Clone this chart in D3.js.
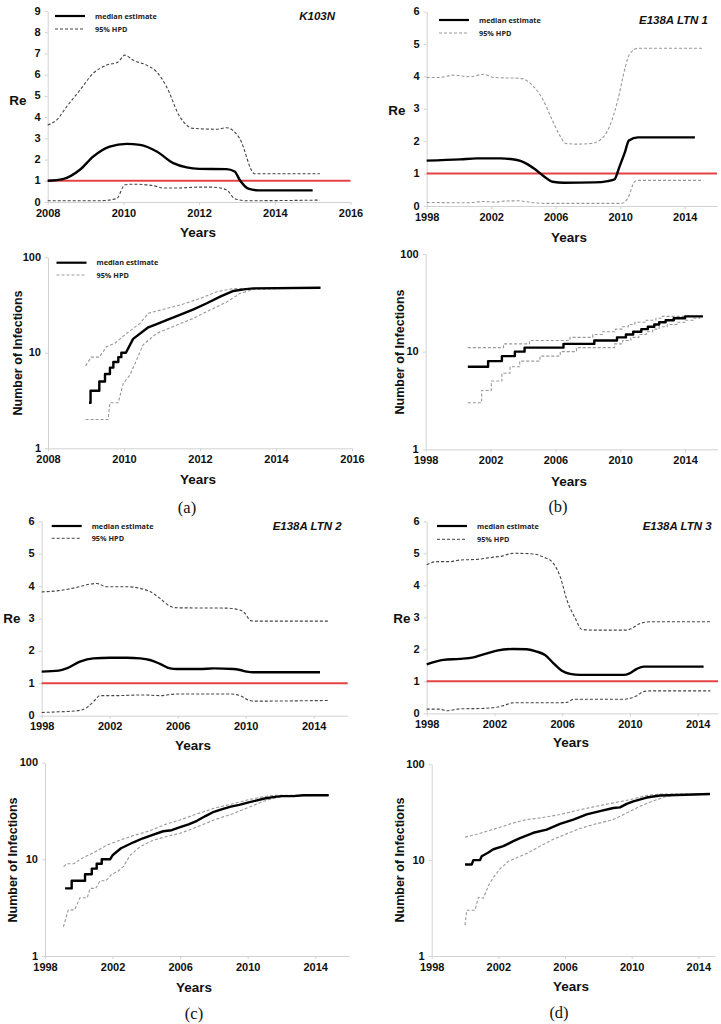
<!DOCTYPE html>
<html><head><meta charset="utf-8">
<script src="https://cdn.jsdelivr.net/npm/d3@7"></script>
<style>
html,body{margin:0;padding:0;background:#fff;}
svg{display:block;font-family:"Liberation Sans",Arial,sans-serif;}
</style></head>
<body>
<svg id="fig" width="721" height="1024"></svg>
<script>
// ---------- DATA ----------
const reTicksA = [0,1,2,3,4,5,6,7,8,9];
const reTicksBCD = [0,1,2,3,4,5,6];
const yearTicksA = [2008,2010,2012,2014,2016];
const yearTicksBCD = [1998,2002,2006,2010,2014];
const logTicks = [1,10,100];
const threshold = 1;
const legendLabels = ["median estimate","95% HPD"];
const titles = ["K103N","E138A LTN 1","E138A LTN 2","E138A LTN 3"];
const letters = ["(a)","(b)","(c)","(d)"];

// (a) K103N – Re
const aReMedian = [[2008,1.0],[2008.4,1.08],[2008.85,1.52],[2009.2,2.14],[2009.64,2.61],[2010.08,2.74],[2010.44,2.69],[2010.88,2.38],[2011.32,1.83],[2011.67,1.63],[2012.0,1.56],[2012.72,1.55],[2012.94,1.44],[2013.07,1.05],[2013.3,0.63],[2013.56,0.55],[2015.0,0.55]];
const aReUpper = [[2008,3.63],[2008.24,3.87],[2008.5,4.49],[2008.85,5.27],[2009.2,6.06],[2009.56,6.45],[2009.86,6.6],[2010.04,6.92],[2010.26,6.68],[2010.61,6.45],[2010.88,6.13],[2011.14,5.43],[2011.49,4.02],[2011.84,3.47],[2012.46,3.43],[2012.72,3.5],[2013.07,3.0],[2013.47,1.33],[2015.19,1.33]];
const aReLower = [[2008,0.06],[2009.38,0.06],[2009.82,0.16],[2010.04,0.81],[2010.26,0.84],[2010.79,0.77],[2011.05,0.66],[2011.4,0.66],[2012.0,0.7],[2012.35,0.7],[2012.72,0.58],[2012.94,0.16],[2013.25,0.06],[2015.19,0.09]];
// (a) K103N – infections
const aInfMedian = [[2009.08,3],[2009.12,3],[2009.12,4],[2009.35,4],[2009.35,5],[2009.5,5],[2009.5,6],[2009.63,6],[2009.63,7],[2009.72,7],[2009.72,8],[2009.85,8],[2009.85,9],[2009.93,9],[2009.93,10],[2010.05,10],[2010.24,14],[2010.64,18.5],[2010.86,20],[2011.12,22],[2011.47,25],[2011.83,28.5],[2012.18,33],[2012.53,38.7],[2012.88,44.4],[2013.15,46.2],[2013.4,47.3],[2015.17,48]];
const aInfUpper = [[2008.99,7.3],[2009.14,9],[2009.35,9],[2009.54,11.6],[2009.76,12.6],[2010.07,16],[2010.42,20.3],[2010.64,25.9],[2010.95,28],[2011.47,31.6],[2012.0,37],[2012.44,43.6],[2012.88,47],[2015.17,48]];
const aInfLower = [[2008.99,2],[2009.58,2],[2009.63,3],[2009.85,3],[2009.98,4.8],[2010.15,5.8],[2010.33,8.4],[2010.5,12.1],[2010.86,16],[2011.39,19.5],[2011.83,23],[2012.26,28],[2012.7,34],[2013.06,42],[2013.4,46],[2015.17,48]];

// (b) E138A LTN 1 – Re
const bReMedian = [[1998,1.40],[2000.08,1.44],[2001.1,1.47],[2002.57,1.47],[2003.6,1.42],[2004.03,1.35],[2004.65,1.16],[2005.28,0.91],[2005.8,0.75],[2006.52,0.72],[2008.4,0.73],[2009.23,0.77],[2009.64,0.82],[2009.95,1.21],[2010.27,1.63],[2010.54,2.02],[2011.1,2.12],[2014.63,2.12]];
const bReUpper = [[1998,3.97],[1998.83,3.97],[1999.66,4.04],[2000.7,3.99],[2001.53,4.07],[2002.16,3.97],[2003.82,3.94],[2004.24,3.86],[2004.65,3.68],[2005.17,3.32],[2005.69,2.76],[2006.3,2.14],[2006.63,1.93],[2007.36,1.91],[2008.19,1.93],[2008.81,2.06],[2009.33,2.45],[2009.85,3.27],[2010.27,4.2],[2010.58,4.69],[2011.1,4.87],[2015.15,4.87]];
const bReLower = [[1998,0.11],[2000.5,0.10],[2001.53,0.14],[2002.16,0.12],[2002.78,0.15],[2003.6,0.16],[2004.24,0.13],[2004.65,0.10],[2005.5,0.08],[2010.06,0.08],[2010.47,0.24],[2010.89,0.75],[2011.1,0.79],[2015.15,0.79]];
// (b) infections (step)
const bInfMedian = [[2000.6,7],[2001.85,8],[2002.7,9],[2003.5,10],[2004.1,11],[2006.5,12],[2008.4,13],[2009.8,14],[2010.35,15],[2010.8,16],[2011.3,17],[2011.7,18],[2012.1,19],[2012.4,20],[2012.8,21],[2013.3,22],[2014.0,23],[2015.1,23]];
const bInfUpper = [[2000.6,11],[2002.8,12],[2004.4,13],[2006.9,14],[2008.3,15],[2008.9,16],[2009.7,17],[2010.1,18],[2010.5,19],[2010.9,20],[2011.6,21],[2012.2,22],[2012.6,23],[2015.1,23]];
const bInfLower = [[2000.6,3],[2001.45,4],[2002.05,5],[2002.7,6],[2003.2,7],[2003.8,8],[2005.05,9],[2006.3,10],[2007.3,11],[2009.65,12],[2010.15,13],[2010.65,14],[2011.15,15],[2011.6,16],[2012.0,17],[2012.4,18],[2012.9,19],[2013.5,20],[2014.0,21],[2014.5,22],[2014.9,23],[2015.1,23]];

// (c) E138A LTN 2 – Re
const cReMedian = [[1998,1.36],[1999,1.39],[1999.47,1.46],[2000.25,1.67],[2001.04,1.77],[2002.02,1.79],[2003,1.79],[2003.8,1.77],[2004.37,1.72],[2004.96,1.6],[2005.55,1.46],[2005.94,1.44],[2007.3,1.44],[2008.1,1.46],[2009.27,1.44],[2009.67,1.41],[2010.06,1.36],[2010.45,1.34],[2014.37,1.34]];
const cReUpper = [[1998,3.82],[1999,3.86],[2000.06,3.96],[2000.84,4.06],[2001.24,4.08],[2001.82,3.98],[2003,3.98],[2003.8,3.93],[2004.37,3.83],[2004.96,3.62],[2005.55,3.38],[2005.94,3.33],[2008.88,3.32],[2009.67,3.26],[2009.96,3.16],[2010.25,2.95],[2010.45,2.92],[2014.86,2.92]];
const cReLower = [[1998,0.10],[1999,0.12],[2000.06,0.15],[2000.65,0.25],[2001.04,0.43],[2001.43,0.62],[2002.4,0.62],[2003.98,0.64],[2004.96,0.62],[2005.94,0.67],[2009.08,0.67],[2009.67,0.62],[2010.16,0.48],[2010.45,0.45],[2014.86,0.47]];
// (c) infections
const cInfMedian = [[1999.19,5],[1999.58,5],[1999.58,6],[2000.37,6],[2000.37,7],[2000.77,7],[2000.77,8],[2001.06,8],[2001.06,9],[2001.36,9],[2001.36,10],[2001.85,10],[2002.0,11],[2002.5,13],[2003.24,15],[2003.8,16.5],[2004.42,18],[2005.0,19.5],[2005.5,20],[2006.0,21.5],[2006.5,23],[2007.0,25],[2007.5,28],[2008.0,31],[2008.5,33],[2009.0,35],[2009.5,36.5],[2010.0,38.5],[2010.5,40.5],[2011.0,42.5],[2011.5,44],[2012.0,45],[2012.7,45],[2013.3,46],[2014.8,46]];
const cInfUpper = [[1999.1,8.4],[1999.3,9],[1999.7,9],[2000.17,10.2],[2000.87,11.7],[2001.66,14],[2002.45,15.8],[2003.24,17.6],[2004.23,19.8],[2005.2,23.2],[2006.0,25.5],[2006.8,28.7],[2008.0,33.7],[2009.17,37.7],[2009.96,41],[2010.95,44.5],[2011.7,46],[2014.8,46]];
const cInfLower = [[1999.09,2],[1999.38,3],[1999.75,3],[2000.07,4],[2000.5,4],[2000.67,5],[2001.0,5],[2001.26,6],[2001.6,6],[2001.95,7],[2002.3,7.5],[2002.64,8.4],[2003.04,11],[2003.63,13.5],[2004.42,15.8],[2005.2,17.2],[2006.0,18.6],[2006.8,20.9],[2008.0,25.5],[2009.17,29.8],[2010.15,35],[2011.14,41],[2012.13,45],[2014.8,46]];

// (d) E138A LTN 3 – Re
const dReMedian = [[1998,1.53],[1998.99,1.67],[1999.97,1.7],[2000.76,1.75],[2001.35,1.84],[2002.14,1.96],[2003.12,2.01],[2003.91,2.0],[2004.5,1.93],[2004.99,1.82],[2005.49,1.56],[2005.98,1.33],[2006.47,1.23],[2007.06,1.2],[2009.63,1.2],[2009.98,1.25],[2010.41,1.39],[2010.81,1.46],[2014.35,1.46]];
const dReUpper = [[1998,4.64],[1998.59,4.74],[1999.38,4.74],[1999.97,4.79],[2000.96,4.81],[2001.94,4.88],[2002.33,4.9],[2003.12,5.0],[2004.3,4.98],[2004.9,4.88],[2005.39,4.74],[2005.88,4.27],[2006.28,3.54],[2006.77,2.97],[2007.16,2.62],[2007.85,2.6],[2009.82,2.6],[2010.12,2.66],[2010.61,2.81],[2011.2,2.86],[2014.75,2.86]];
const dReLower = [[1998,0.13],[1998.79,0.13],[1999.18,0.08],[1999.97,0.14],[2001.15,0.15],[2002.14,0.19],[2002.53,0.24],[2003.12,0.33],[2005.88,0.33],[2006.28,0.34],[2006.67,0.44],[2009.63,0.44],[2010.02,0.47],[2010.41,0.55],[2010.81,0.68],[2011.2,0.7],[2014.75,0.7]];
// (d) infections
const dInfMedian = [[2000,9],[2000.4,9],[2000.5,10],[2000.9,10],[2001.0,11],[2001.4,12],[2001.7,13],[2002.3,14],[2002.9,15.8],[2003.3,17],[2004.1,19.3],[2004.9,20.8],[2005.7,23.9],[2006.5,26.5],[2007.3,30],[2008.1,32.5],[2008.9,35],[2009.3,35.5],[2009.7,38.6],[2010.1,41.1],[2010.9,45],[2011.7,47.3],[2014.7,49]];
const dInfUpper = [[2000,17.4],[2000.7,18.6],[2001.3,20],[2002.1,22],[2002.9,24.5],[2003.7,26.5],[2004.5,27.6],[2005.7,29.9],[2006.9,33.6],[2007.9,36.5],[2008.9,39.6],[2009.9,42.7],[2010.9,47.3],[2011.7,49],[2014.7,49]];
const dInfLower = [[2000,2.1],[2000.1,3],[2000.6,3],[2000.8,4.1],[2001.1,4],[2001.4,5.4],[2001.7,6.6],[2002.1,8.1],[2002.6,9.7],[2003.1,10.6],[2003.7,11.7],[2004.5,14],[2005.3,16.5],[2006.1,18.8],[2006.9,21.4],[2007.7,23.5],[2008.9,26.5],[2009.7,31],[2010.5,36.5],[2011.3,41.6],[2012.1,46.3],[2012.7,47.3],[2014.7,49]];

// ---------- DRAW ----------
const svg = d3.select("#fig");
const AXIS_COLOR = "#d2d2d2";

function panel(cfg){
  const x = d3.scaleLinear().domain(cfg.xDomain).range(cfg.xRange);
  const y = cfg.log ? d3.scaleLog().domain([1,100]).range(cfg.yRange)
                    : d3.scaleLinear().domain(cfg.yDomain).range(cfg.yRange);
  const g = svg.append("g");

  const xa = g.append("g").attr("transform",`translate(0,${cfg.yRange[0]})`)
    .call(d3.axisBottom(x).tickValues(cfg.xTicks).tickFormat(d3.format("d")).tickSize(3).tickSizeOuter(0).tickPadding(4));
  const ya = g.append("g").attr("transform",`translate(${cfg.xRange[0]},0)`)
    .call(d3.axisLeft(y).tickValues(cfg.yTicks).tickFormat(d3.format("d")).tickSize(3).tickSizeOuter(0).tickPadding(4));
  [xa,ya].forEach(a=>{
    a.select(".domain").attr("stroke",AXIS_COLOR).attr("stroke-width",1);
    a.selectAll(".tick line").attr("stroke",AXIS_COLOR);
    a.selectAll(".tick text").attr("fill","#111").attr("font-size",11).attr("font-weight","bold")
      .attr("font-family","'Liberation Sans',Arial,sans-serif");
  });
  ya.selectAll(".tick text").attr("dy","0.28em");

  if(cfg.threshold!==undefined){
    g.append("line").attr("x1",cfg.xRange[0]).attr("x2",cfg.xRange[1])
      .attr("y1",y(cfg.threshold)).attr("y2",y(cfg.threshold))
      .attr("stroke","#e0302f").attr("stroke-width",2).attr("opacity",0.9);
  }

  const line = d3.line().x(d=>x(d[0])).y(d=>y(d[1])).curve(cfg.curve);
  cfg.series.forEach(s=>{
    g.append("path").datum(s.data).attr("d",line).attr("fill","none")
      .attr("stroke",s.dashed?cfg.dashColor:"#000")
      .attr("stroke-width",s.dashed?1.1:2.4)
      .attr("stroke-dasharray",s.dashed?"3,2":null)
      .attr("stroke-linejoin","round");
  });

  if(cfg.legend){
    const L = cfg.legend;
    [0,1].forEach(i=>{
      const yy = L.y + i*L.dy;
      g.append("line").attr("x1",L.x).attr("x2",L.x+30).attr("y1",yy).attr("y2",yy)
        .attr("stroke",i?cfg.dashColor:"#000").attr("stroke-width",i?1:2.2)
        .attr("stroke-dasharray",i?"3,2":null);
      g.append("text").attr("x",L.x+40).attr("y",yy).attr("dy","0.35em")
        .attr("font-size",7.3).attr("font-weight","bold").attr("fill","#222")
        .attr("font-family","'Open Sans','Liberation Sans',sans-serif")
        .text(legendLabels[i]);
    });
  }
  if(cfg.title){
    g.append("text").attr("x",cfg.title.x).attr("y",cfg.title.y).attr("dy","0.35em")
      .attr("text-anchor","end").attr("font-size",11.5).attr("font-weight","bold")
      .attr("font-style","italic").attr("fill","#111").text(cfg.title.text);
  }
  if(cfg.log){
    g.append("text").attr("transform",`translate(${cfg.ylab[0]},${cfg.ylab[1]}) rotate(-90)`)
      .attr("text-anchor","middle").attr("dy","0.35em").attr("font-size",12.5).attr("font-weight","bold")
      .attr("fill","#111").text("Number of Infections");
  } else {
    g.append("text").attr("x",cfg.ylab[0]).attr("y",cfg.ylab[1]).attr("dy","0.35em")
      .attr("text-anchor","middle").attr("font-size",13.5).attr("font-weight","bold")
      .attr("fill","#111").text("Re");
  }
  g.append("text").attr("x",cfg.xlab[0]).attr("y",cfg.xlab[1]).attr("dy","0.35em")
    .attr("text-anchor","middle").attr("font-size",13.5).attr("font-weight","bold")
    .attr("fill","#111").text("Years");
  if(cfg.letter){
    g.append("text").attr("x",cfg.letter.x).attr("y",cfg.letter.y).attr("dy","0.35em")
      .attr("text-anchor","middle").attr("font-size",16.5)
      .attr("font-family","'Liberation Serif','Times New Roman',serif")
      .attr("fill","#111").text(cfg.letter.text);
  }
}

const smooth = d3.curveMonotoneX;

// (a) top
panel({xDomain:[2008,2016],xRange:[47.7,350.5],yDomain:[0,9],yRange:[202,11],xTicks:yearTicksA,yTicks:reTicksA,
  curve:smooth,dashColor:"#444",threshold:threshold,
  series:[{data:aReUpper,dashed:true},{data:aReLower,dashed:true},{data:aReMedian}],
  legend:{x:55,y:16,dy:13},title:{x:335,y:16,text:titles[0]},ylab:[18,100],xlab:[198,232]});
// (a) bottom
panel({log:true,xDomain:[2008,2016],xRange:[48,352],yRange:[448.3,257.3],xTicks:yearTicksA,yTicks:logTicks,
  curve:d3.curveLinear,dashColor:"#999",
  series:[{data:aInfUpper,dashed:true},{data:aInfLower,dashed:true},{data:aInfMedian}],
  legend:{x:56.5,y:262.7,dy:12.3},ylab:[18,353],xlab:[198,479],letter:{x:187,y:507,text:letters[0]}});

// (b) top
panel({xDomain:[1998,2016],xRange:[426.7,717],yDomain:[0,6],yRange:[206,11.7],xTicks:yearTicksBCD,yTicks:reTicksBCD,
  curve:smooth,dashColor:"#999",threshold:threshold,
  series:[{data:bReUpper,dashed:true},{data:bReLower,dashed:true},{data:bReMedian}],
  legend:{x:439,y:20,dy:13},title:{x:708,y:20,text:titles[1]},ylab:[397,110],xlab:[569,237]});
// (b) bottom
panel({log:true,xDomain:[1998,2016],xRange:[425.7,717.5],yRange:[449.3,254],xTicks:yearTicksBCD,yTicks:logTicks,
  curve:d3.curveStepAfter,dashColor:"#999",
  series:[{data:bInfUpper,dashed:true},{data:bInfLower,dashed:true},{data:bInfMedian}],
  ylab:[400,352],xlab:[569,481],letter:{x:558,y:506,text:letters[1]}});

// (c) top
panel({xDomain:[1998,2016],xRange:[41.7,347.7],yDomain:[0,6],yRange:[715.7,521.3],xTicks:yearTicksBCD,yTicks:reTicksBCD,
  curve:smooth,dashColor:"#444",threshold:threshold,
  series:[{data:cReUpper,dashed:true},{data:cReLower,dashed:true},{data:cReMedian}],
  legend:{x:51.7,y:526,dy:12.3},title:{x:341.7,y:526,text:titles[2]},ylab:[12,618.7],xlab:[193,745.7]});
// (c) bottom
panel({log:true,xDomain:[1998,2016],xRange:[45,349],yRange:[956,762.6],xTicks:yearTicksBCD,yTicks:logTicks,
  curve:d3.curveLinear,dashColor:"#999",
  series:[{data:cInfUpper,dashed:true},{data:cInfLower,dashed:true},{data:cInfMedian}],
  ylab:[13,860],xlab:[194,987],letter:{x:194,y:1013,text:letters[2]}});

// (d) top
panel({xDomain:[1998,2015.2],xRange:[426.7,718],yDomain:[0,6],yRange:[713.3,521.3],xTicks:yearTicksBCD,yTicks:reTicksBCD,
  curve:smooth,dashColor:"#444",threshold:threshold,
  series:[{data:dReUpper,dashed:true},{data:dReLower,dashed:true},{data:dReMedian}],
  legend:{x:437,y:526,dy:13.3},title:{x:711.7,y:526,text:titles[3]},ylab:[402,618.3],xlab:[571,742.7]});
// (d) bottom
panel({log:true,xDomain:[1998,2015],xRange:[431.7,715],yRange:[956,764.3],xTicks:yearTicksBCD,yTicks:logTicks,
  curve:d3.curveLinear,dashColor:"#999",
  series:[{data:dInfUpper,dashed:true},{data:dInfLower,dashed:true},{data:dInfMedian}],
  ylab:[400,860],xlab:[571,986],letter:{x:559,y:1012,text:letters[3]}});
</script>
</body></html>
